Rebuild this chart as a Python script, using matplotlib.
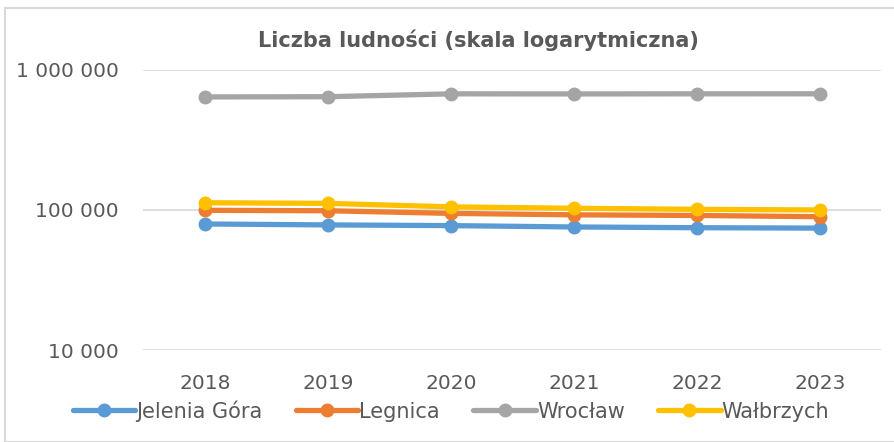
import matplotlib
matplotlib.use('Agg')
import matplotlib.pyplot as plt
import matplotlib.ticker as mticker
from matplotlib.patches import Rectangle

plt.rcParams['font.family'] = ['DejaVu Sans']

years = ['2018', '2019', '2020', '2021', '2022', '2023']
jelenia_gora = [79400, 78200, 77300, 75600, 74700, 74200]
legnica = [99400, 98700, 94500, 92300, 91300, 89500]
wroclaw = [640600, 642900, 674000, 673000, 674100, 674500]
walbrzych = [112600, 111400, 105200, 102800, 101000, 100000]

series = [
    ('Jelenia Góra', jelenia_gora, '#5B9BD5'),
    ('Legnica', legnica, '#ED7D31'),
    ('Wrocław', wroclaw, '#A5A5A5'),
    ('Wałbrzych', walbrzych, '#FFC000'),
]

TEXT = '#595959'

fig = plt.figure(figsize=(8.94, 4.42), dpi=100)
ax = fig.add_axes([0.1605, 0.208, 0.8255, 0.634])

x = list(range(len(years)))
for name, vals, col in series:
    ax.plot(x, vals, color=col, lw=3.8, marker='o', ms=9, label=name,
            solid_capstyle='round')

ax.set_yscale('log')
ax.set_ylim(1e4, 1e6)
ax.set_xlim(-0.5, len(years) - 0.5)
ax.yaxis.set_major_locator(mticker.FixedLocator([1e4, 1e5, 1e6]))
ax.yaxis.set_minor_locator(mticker.NullLocator())
ax.yaxis.set_major_formatter(mticker.FuncFormatter(
    lambda v, p: f'{int(round(v)):,}'.replace(',', ' ')))
ax.set_xticks(x)
ax.set_xticklabels(years)
ax.tick_params(axis='both', length=0, colors=TEXT, labelsize=14.5)
ax.tick_params(axis='y', pad=18)
ax.tick_params(axis='x', pad=17)
for s in ax.spines.values():
    s.set_visible(False)
ax.grid(axis='y', color='#D9D9D9', lw=1.2)
ax.set_axisbelow(True)

fig.text(478 / 894, 1 - 40 / 442, 'Liczba ludności (skala logarytmiczna)', ha='center',
         va='center', fontsize=15, fontweight='bold', color=TEXT)

fig.legend(loc='center', bbox_to_anchor=(451 / 894, 1 - 411 / 442), ncol=4,
           frameon=False, fontsize=15, labelcolor=TEXT, handlelength=3.0,
           handletextpad=0.05, columnspacing=1.6)

fig.patches.append(Rectangle((5 / 894, 0), 1, 1 - 8 / 442, transform=fig.transFigure,
                             fill=False, edgecolor='#D9D9D9', lw=1.5))

fig.savefig('out.png', dpi=100, facecolor='white')
